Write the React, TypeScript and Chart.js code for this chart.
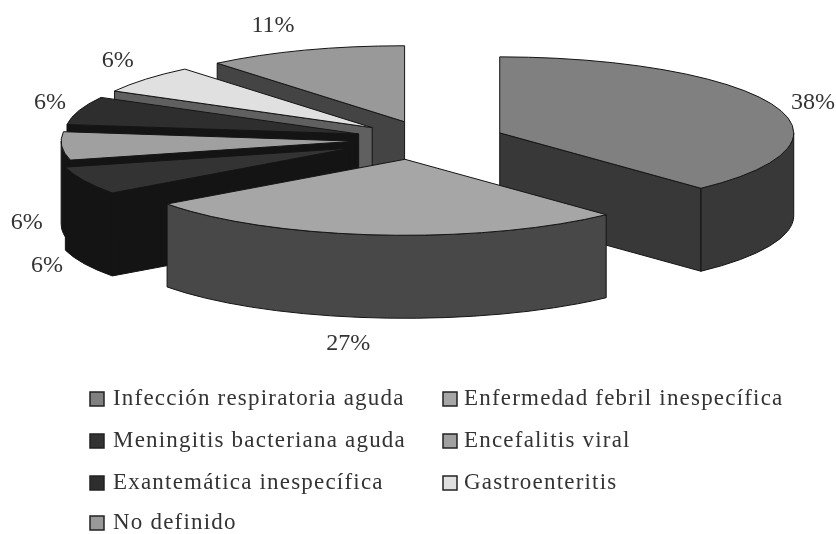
import React, { useEffect, useRef } from "react";
import { Chart, registerables } from "chart.js";

Chart.register(...registerables);

const categories = [
  "Infección respiratoria aguda",
  "Enfermedad febril inespecífica",
  "Meningitis bacteriana aguda",
  "Encefalitis viral",
  "Exantemática inespecífica",
  "Gastroenteritis",
  "No definido",
];
const shares = [38, 27, 6, 6, 6, 6, 11];
const topColors = ["#808080", "#a6a6a6", "#333333", "#a0a0a0", "#2e2e2e", "#e0e0e0", "#999999"];
const sideColors = ["#383838", "#484848", "#141414", "#141414", "#141414", "#606060", "#444444"];

// Projection of the pie onto the page
const TILT = 0.2585;
const RADIUS = 294;
const DEPTH = 83;
const EXPLODE = 75;
const OUTLINE = "#151515";
const TEXT = "#333333";
const FONT = '"Liberation Serif", serif';

// Painted back to front so nearer slices cover the ones behind
const paintOrder = [6, 5, 4, 3, 2, 0, 1];
const sliceNudgeX = [0, -18, -12, 0, 0, 0, 0];
const labelNudge = [
  [40, -2],
  [-29, 26],
  [-37, 2],
  [-35, -6],
  [-29, -8],
  [-28, -18],
  [-32, -25],
];

const LEGEND_COLS = [90, 443];
const LEGEND_ROWS = [399, 441, 483, 523];

const pie3d = {
  id: "pie3d",
  beforeDatasetDraw(chart: any) {
    const ctx = chart.ctx as CanvasRenderingContext2D;
    const arcs = chart.getDatasetMeta(0).data as any[];
    const anchors: { x: number; y: number }[] = [];

    for (const i of paintOrder) {
      const arc = arcs[i];
      const start = arc.startAngle as number;
      const end = arc.endAngle as number;
      const mid = (start + end) / 2;
      const cx = arc.x + Math.cos(mid) * EXPLODE + sliceNudgeX[i];
      const cy = arc.y + Math.sin(mid) * EXPLODE * TILT;
      const rx = RADIUS;
      const ry = RADIUS * TILT;
      const rimX = (a: number) => cx + Math.cos(a) * rx;
      const rimY = (a: number) => cy + Math.sin(a) * ry;

      ctx.save();
      ctx.fillStyle = sideColors[i];
      ctx.strokeStyle = OUTLINE;
      ctx.lineWidth = 1;
      ctx.lineJoin = "round";

      // Radial walls that face the viewer
      const wall = (a: number) => {
        ctx.beginPath();
        ctx.moveTo(cx, cy);
        ctx.lineTo(rimX(a), rimY(a));
        ctx.lineTo(rimX(a), rimY(a) + DEPTH);
        ctx.lineTo(cx, cy + DEPTH);
        ctx.closePath();
        ctx.fill();
        ctx.stroke();
      };
      if (Math.cos(start) < 0) wall(start);
      if (Math.cos(end) > 0) wall(end);

      // Curved wall, front half of the rim only
      const from = Math.max(start, 0);
      const to = Math.min(end, Math.PI);
      if (to > from) {
        ctx.beginPath();
        ctx.ellipse(cx, cy, rx, ry, 0, from, to);
        ctx.lineTo(rimX(to), rimY(to) + DEPTH);
        ctx.ellipse(cx, cy + DEPTH, rx, ry, 0, to, from, true);
        ctx.closePath();
        ctx.fill();
        ctx.stroke();
      }
      ctx.restore();

      // Top face: the library's own arc under a flattening transform
      ctx.save();
      ctx.translate(cx, cy);
      ctx.scale(1, TILT);
      ctx.translate(-arc.x, -arc.y);
      arc.draw(ctx);
      ctx.restore();

      ctx.save();
      ctx.strokeStyle = OUTLINE;
      ctx.lineWidth = 1;
      ctx.beginPath();
      ctx.moveTo(cx, cy);
      ctx.ellipse(cx, cy, rx, ry, 0, start, end);
      ctx.closePath();
      ctx.stroke();
      ctx.restore();

      const frontWall = Math.sin(mid) > 0 ? DEPTH : 0;
      anchors[i] = { x: rimX(mid), y: rimY(mid) + frontWall };
    }

    // Percentage labels beside each slice
    ctx.save();
    ctx.font = `24px ${FONT}`;
    ctx.fillStyle = TEXT;
    ctx.textAlign = "center";
    ctx.textBaseline = "middle";
    shares.forEach((v, i) => {
      ctx.fillText(`${v}%`, anchors[i].x + labelNudge[i][0], anchors[i].y + labelNudge[i][1]);
    });
    ctx.restore();

    return false;
  },
  afterDraw(chart: any) {
    // Two-column key under the pie
    const ctx = chart.ctx as CanvasRenderingContext2D;
    ctx.save();
    ctx.font = `23px ${FONT}`;
    (ctx as any).letterSpacing = "1.2px";
    ctx.textBaseline = "middle";
    categories.forEach((name, i) => {
      const x = LEGEND_COLS[i % 2];
      const y = LEGEND_ROWS[Math.floor(i / 2)];
      ctx.fillStyle = topColors[i];
      ctx.strokeStyle = "#222222";
      ctx.lineWidth = 1.5;
      ctx.fillRect(x, y - 7, 14, 14);
      ctx.strokeRect(x, y - 7, 14, 14);
      ctx.fillStyle = TEXT;
      ctx.fillText(name, x + 23 - (i % 2 ? 2 : 0), y);
    });
    ctx.restore();
  },
};

export default function App() {
  const ref = useRef<HTMLCanvasElement>(null);

  useEffect(() => {
    document.body.style.margin = "0";
    const chart = new Chart(ref.current as HTMLCanvasElement, {
      type: "pie",
      data: {
        labels: categories,
        datasets: [{ data: shares, backgroundColor: topColors, borderWidth: 0 }],
      },
      options: {
        animation: false,
        responsive: false,
        events: [],
        radius: RADIUS,
        layout: { padding: { left: 24, bottom: 254 } },
        plugins: { legend: { display: false }, tooltip: { enabled: false } },
      } as any,
      plugins: [pie3d as any],
    });
    return () => chart.destroy();
  }, []);

  return <canvas ref={ref} width={836} height={534} style={{ display: "block", background: "#ffffff" }} />;
}
